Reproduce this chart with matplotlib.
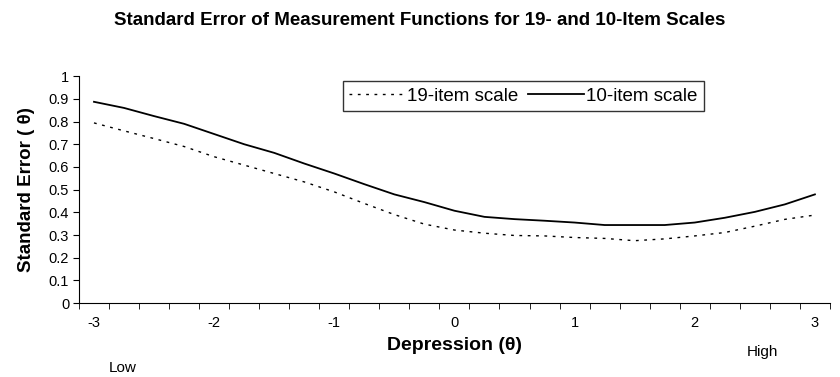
import numpy as np
import matplotlib
matplotlib.use("Agg")
import matplotlib.pyplot as plt

plt.rcParams["font.family"] = ["Liberation Sans", "DejaVu Sans"]

theta = [-3, -2.75, -2.5, -2.25, -2, -1.75, -1.5, -1.25, -1, -0.75, -0.5, -0.25, 0,
         0.25, 0.5, 0.75, 1, 1.25, 1.5, 1.75, 2, 2.25, 2.5, 2.75, 3]
se_19 = [0.794, 0.759, 0.725, 0.69, 0.645, 0.608, 0.571, 0.534, 0.49, 0.439, 0.39, 0.348, 0.322,
         0.308, 0.298, 0.296, 0.289, 0.285, 0.275, 0.283, 0.296, 0.311, 0.339, 0.369, 0.388]
se_10 = [0.887, 0.86, 0.824, 0.79, 0.745, 0.70, 0.662, 0.615, 0.571, 0.524, 0.479, 0.445, 0.407,
         0.38, 0.37, 0.363, 0.355, 0.344, 0.344, 0.344, 0.355, 0.376, 0.402, 0.435, 0.479]
xticks = [-3, -2, -1, 0, 1, 2, 3]

fig = plt.figure(figsize=(8.4, 3.77), dpi=100)
ax = fig.add_axes([0.094, 0.196, 0.894, 0.602])

ax.plot(theta, se_19, color="black", lw=1.0, ls=(0, (2, 4)), label="19-item scale")
ax.plot(theta, se_10, color="black", lw=1.3, label="10-item scale")

ax.set_xlim(-3.125, 3.125)
ax.set_ylim(0, 1)
ax.set_yticks(np.arange(0, 1.01, 0.1))
ax.set_yticklabels(["0"] + [f"{v:.1f}" for v in np.arange(0.1, 0.95, 0.1)] + ["1"])
ax.set_xticks(xticks)
ax.set_xticklabels([str(t) for t in xticks])
ax.tick_params(axis="x", length=0, pad=9, labelsize=10.5)
ax.set_xticks(np.arange(-3.125, 3.13, 0.25), minor=True)
ax.tick_params(axis="x", which="minor", length=4, direction="out")
ax.tick_params(axis="y", length=4, direction="out", labelsize=10.5, pad=3)
for s in ["top", "right"]:
    ax.spines[s].set_visible(False)

ax.set_xlabel("Depression (\u03b8)", fontsize=14, fontweight="bold", labelpad=5)
ax.set_ylabel("Standard Error ( \u03b8)", fontsize=13.5, fontweight="bold", labelpad=10)
fig.text(0.5, 0.945, "Standard Error of Measurement Functions for 19- and 10-Item Scales",
         ha="center", va="center", fontsize=13.5, fontweight="bold")
fig.text(0.129, 0.024, "Low", fontsize=11, ha="left", va="center")
fig.text(0.889, 0.066, "High", fontsize=11, ha="left", va="center")

leg = ax.legend(loc="upper left", bbox_to_anchor=(0.351, 0.978), borderaxespad=0, ncol=2,
                frameon=True, fancybox=False, edgecolor="black", fontsize=13.5,
                handlelength=3.0, handletextpad=0.1, columnspacing=0.5, borderpad=0.35)
leg.get_frame().set_linewidth(1.0)

fig.savefig("out.png", dpi=100)
